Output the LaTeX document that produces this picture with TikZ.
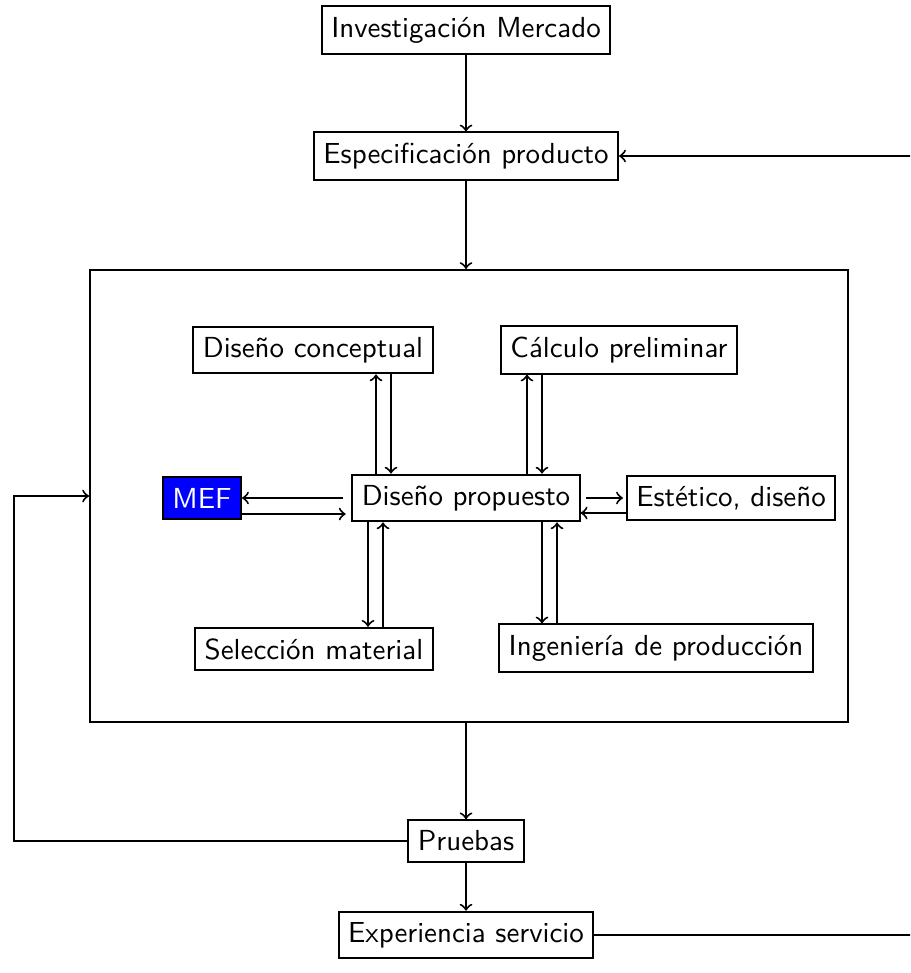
\documentclass[tikz,border=0pt]{standalone}
\usepackage{tikz}
\def\lw{0.7pt}
\tikzset{box/.style={draw, line width=\lw, inner ysep=3.7pt, font=\sffamily\fontsize{10.2}{12}\selectfont}}

\begin{document}
\begin{tikzpicture}[x=0.352pt, y=-0.352pt, line width=\lw]
\useasboundingbox (0,0) rectangle (910,973);
\clip (0,0) rectangle (910,973);

\node[box] (inv) at (466,30) {Investigación Mercado};
\node[box] (esp) at (466,156) {Especificación producto};
\node[draw, minimum width=266.8pt, minimum height=159.1pt] (frame) at (469,496) {};
\node[box] (dc) at (313,350) {Diseño conceptual};
\node[box] (cp) at (619,350) {Cálculo preliminar};
\node[box] (prop) at (466,498) {Diseño propuesto};
\node[box, fill=blue, text=white] (mef) at (202,498) {MEF};
\node[box] (est) at (731,498) {Estético, diseño};
\node[box] (sel) at (314,649) {Selección material};
\node[box] (ing) at (656,648) {Ingeniería de producción};
\node[box] (pru) at (466,841) {Pruebas};
\node[box] (exp) at (466,935) {Experiencia servicio};

\coordinate (lft) at (14,600);
\coordinate (rgt) at (930,500);

% main line
\draw[->] (inv) -- (esp);
\draw[->] (esp) -- (esp |- frame.north);
\draw[->] (pru |- frame.south) -- (pru);
\draw[->] (pru) -- (exp);

% feedback
\draw[->] (pru.west) -| (lft) |- (frame.west);
\draw[->] (exp.east) -| (rgt) |- (esp.east);

% up and down around the proposal
\foreach \n/\a/\b in {dc/376/391, cp/527/542}{
	\draw[->] (prop.north -| \a,0) -- (\n.south -| \a,0);
	\draw[->] (\n.south -| \b,0) -- (prop.north -| \b,0);
}
\foreach \n/\a/\b in {sel/368/383, ing/542/557}{
	\draw[->] (prop.south -| \a,0) -- (\n.north -| \a,0);
	\draw[->] (\n.north -| \b,0) -- (prop.south -| \b,0);
}

% sides
\draw[->] ([xshift=-3pt]prop.west) -- (mef.east);
\draw[->] (mef.east |- 0,514) -- ([xshift=-2pt]prop.west |- 0,514);
\draw[->] ([xshift=2pt]prop.east) -- ([xshift=-1pt]est.west);
\draw[->] (est.west |- 0,513) -- (prop.east |- 0,513);
\end{tikzpicture}
\end{document}
